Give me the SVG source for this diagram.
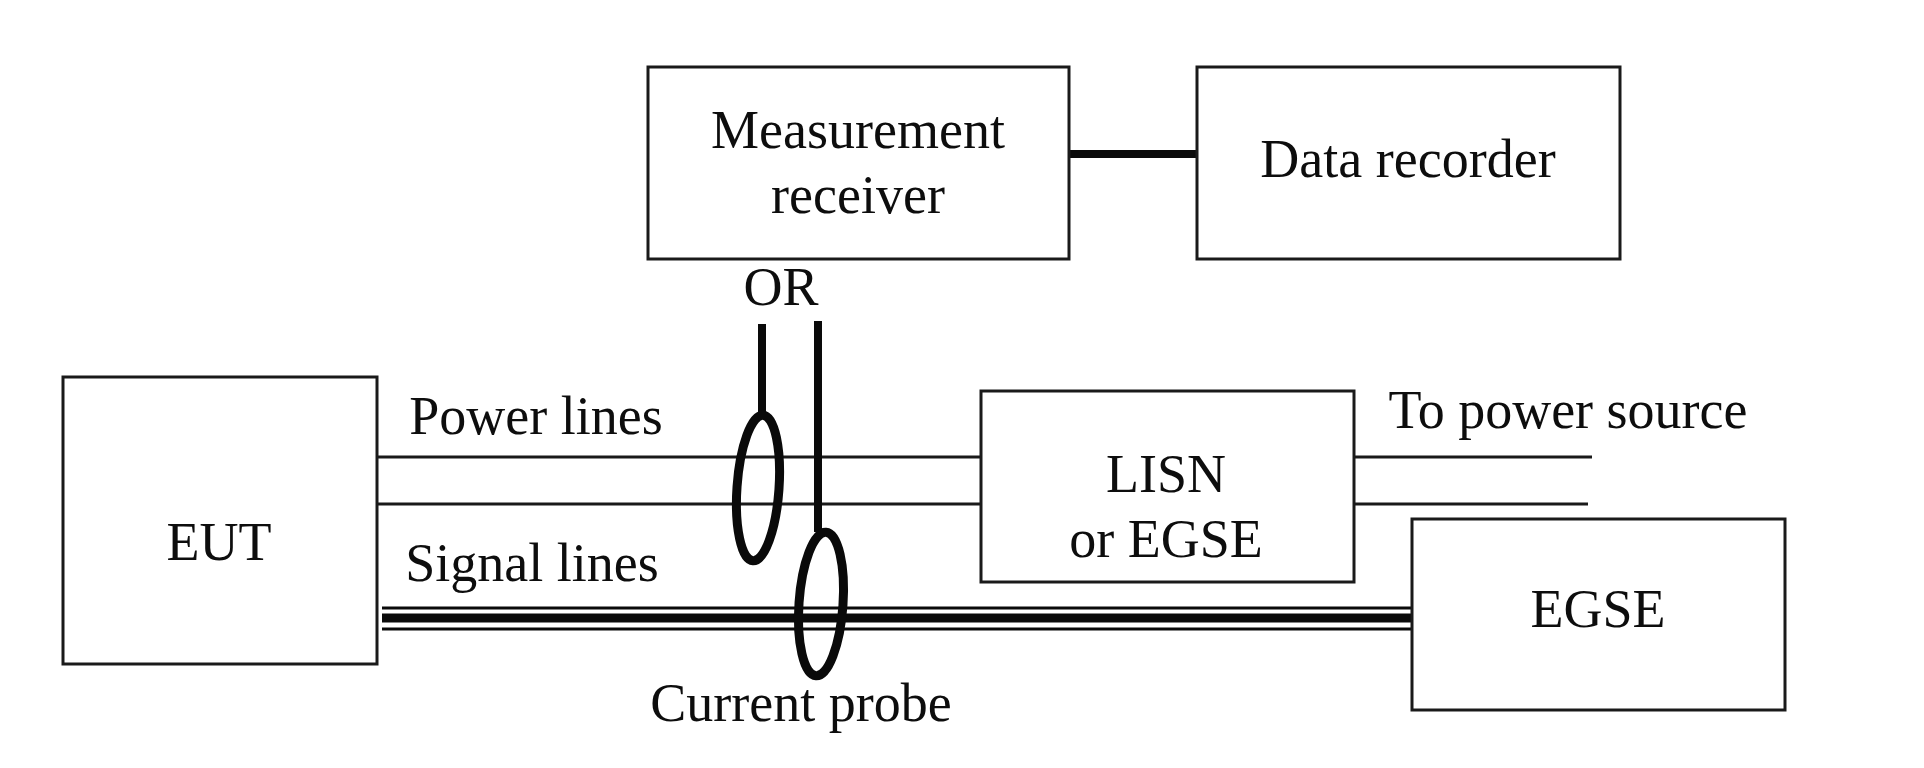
<svg xmlns="http://www.w3.org/2000/svg" width="1924" height="768" viewBox="0 0 1924 768">
<style>
.box{fill:#fff;stroke:#1a1a1a;stroke-width:3}
.t{font-family:"Liberation Serif","Times New Roman",serif;font-size:54px;fill:#0d0d0d;text-anchor:middle}
.w{stroke:#1a1a1a;stroke-width:3;fill:none}
.probe{fill:none;stroke:#0a0a0a;stroke-width:9}
</style>
<rect width="1924" height="768" fill="#fff"/>
<g id="connectors">
  <line x1="1069" y1="154" x2="1197" y2="154" stroke="#0a0a0a" stroke-width="8"/>
  <line class="w" x1="372" y1="457" x2="981" y2="457"/>
  <line class="w" x1="377" y1="504" x2="981" y2="504"/>
  <line class="w" x1="1354" y1="457" x2="1592" y2="457"/>
  <line class="w" x1="1354" y1="504" x2="1588" y2="504"/>
  <line x1="382" y1="608" x2="1412" y2="608" stroke="#0a0a0a" stroke-width="3"/>
  <line x1="382" y1="618" x2="1412" y2="618" stroke="#0a0a0a" stroke-width="9"/>
  <line x1="382" y1="629" x2="1412" y2="629" stroke="#0a0a0a" stroke-width="3"/>
</g>
<g id="measurement-receiver">
  <rect class="box" x="648" y="67" width="421" height="192"/>
  <text class="t" x="858" y="148">Measurement</text>
  <text class="t" x="858" y="213">receiver</text>
</g>
<g id="data-recorder">
  <rect class="box" x="1197" y="67" width="423" height="192"/>
  <text class="t" x="1408" y="177">Data recorder</text>
</g>
<g id="or-label">
  <text class="t" x="781" y="305">OR</text>
</g>
<g id="eut">
  <rect class="box" x="63" y="377" width="314" height="287"/>
  <text class="t" x="219" y="560">EUT</text>
</g>
<g id="power-lines-label">
  <text class="t" x="536" y="434">Power lines</text>
</g>
<g id="signal-lines-label">
  <text class="t" x="532" y="581">Signal lines</text>
</g>
<g id="lisn">
  <rect class="box" x="981" y="391" width="373" height="191"/>
  <text class="t" x="1166" y="492">LISN</text>
  <text class="t" x="1166" y="557">or EGSE</text>
</g>
<g id="to-power-source">
  <text class="t" x="1568" y="428">To power source</text>
</g>
<g id="egse">
  <rect class="box" x="1412" y="519" width="373" height="191"/>
  <text class="t" x="1598" y="627">EGSE</text>
</g>
<g id="probe-power">
  <line x1="762" y1="324" x2="762" y2="414" stroke="#0a0a0a" stroke-width="8"/>
  <ellipse class="probe" cx="758" cy="488" rx="21" ry="73" transform="rotate(4 758 488)"/>
</g>
<g id="probe-signal">
  <line x1="818" y1="321" x2="818" y2="532" stroke="#0a0a0a" stroke-width="8"/>
  <ellipse class="probe" cx="821" cy="604" rx="22" ry="72" transform="rotate(4 821 604)"/>
</g>
<g id="current-probe-label">
  <text class="t" x="801" y="721">Current probe</text>
</g>
</svg>
